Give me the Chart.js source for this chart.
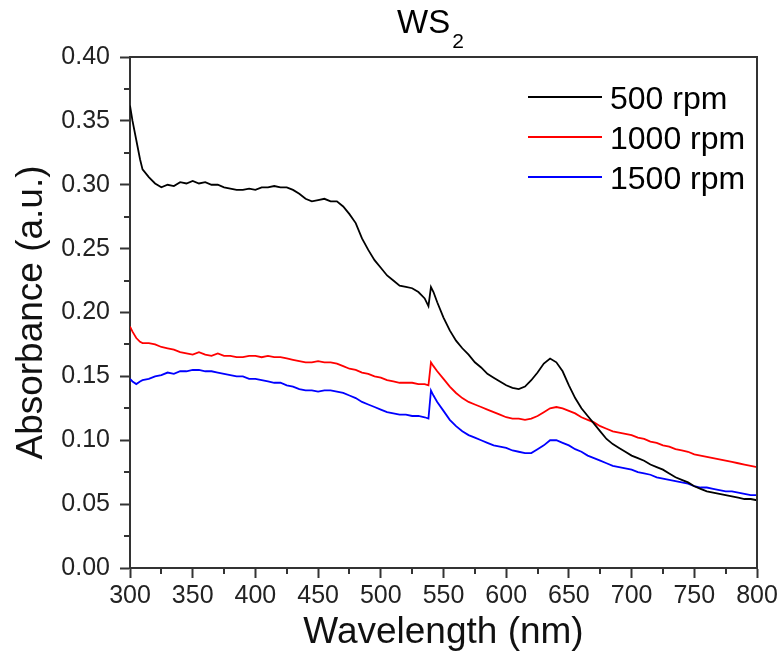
<!DOCTYPE html>
<html>
<head>
<meta charset="utf-8">
<title>WS2 absorbance</title>
<script src="https://cdn.jsdelivr.net/npm/chart.js@4.4.1/dist/chart.umd.min.js"></script>
<style>
  html, body { margin: 0; padding: 0; background: #ffffff; }
  #wrap { position: relative; width: 782px; height: 654px; }
</style>
</head>
<body>
<div id="wrap"><canvas id="chart" width="782" height="654"></canvas></div>
<script>
// wavelength (nm)
const wavelengths = [
  300, 302, 305, 308, 310, 315, 320, 325, 330, 335, 340, 345, 350, 355, 360, 365, 370, 375, 380, 385,
  390, 395, 400, 405, 410, 415, 420, 425, 430, 435, 440, 445, 450, 455, 460, 465, 470, 475, 480, 485,
  490, 495, 500, 505, 510, 515, 520, 525, 530, 535, 538, 540, 542, 545, 550, 555, 560, 565, 570, 575,
  580, 585, 590, 595, 600, 605, 610, 615, 620, 625, 630, 635, 640, 645, 650, 655, 660, 665, 670, 675,
  680, 685, 690, 695, 700, 705, 710, 715, 720, 725, 730, 735, 740, 745, 750, 755, 760, 765, 770, 775,
  780, 785, 790, 795, 800
];

const abs500 = [
  0.362, 0.350, 0.335, 0.320, 0.312, 0.306, 0.301, 0.298, 0.300, 0.299, 0.302, 0.301, 0.303, 0.301, 0.302, 0.300, 0.300, 0.298, 0.297, 0.296,
  0.296, 0.297, 0.296, 0.298, 0.298, 0.299, 0.298, 0.298, 0.296, 0.293, 0.289, 0.287, 0.288, 0.289, 0.287, 0.287, 0.283, 0.277, 0.270, 0.258,
  0.249, 0.241, 0.235, 0.229, 0.225, 0.221, 0.220, 0.219, 0.216, 0.211, 0.205, 0.220, 0.216, 0.208, 0.196, 0.186, 0.178, 0.172, 0.167, 0.161,
  0.157, 0.152, 0.149, 0.146, 0.143, 0.141, 0.140, 0.142, 0.147, 0.153, 0.160, 0.164, 0.161, 0.154, 0.143, 0.133, 0.125, 0.119, 0.113, 0.107,
  0.101, 0.097, 0.094, 0.091, 0.088, 0.086, 0.084, 0.081, 0.079, 0.077, 0.074, 0.071, 0.069, 0.067, 0.064, 0.062, 0.060, 0.059, 0.058, 0.057,
  0.056, 0.055, 0.054, 0.054, 0.053
];

const abs1000 = [
  0.189, 0.185, 0.180, 0.177, 0.176, 0.176, 0.175, 0.173, 0.172, 0.171, 0.169, 0.168, 0.167, 0.169, 0.167, 0.166, 0.168, 0.166, 0.166, 0.165,
  0.165, 0.166, 0.166, 0.165, 0.166, 0.165, 0.165, 0.164, 0.163, 0.162, 0.161, 0.161, 0.162, 0.161, 0.161, 0.160, 0.158, 0.156, 0.155, 0.153,
  0.152, 0.150, 0.149, 0.147, 0.146, 0.145, 0.145, 0.145, 0.144, 0.144, 0.143, 0.161, 0.158, 0.154, 0.148, 0.142, 0.137, 0.133, 0.130, 0.128,
  0.126, 0.124, 0.122, 0.120, 0.118, 0.117, 0.117, 0.116, 0.117, 0.119, 0.122, 0.125, 0.126, 0.125, 0.123, 0.121, 0.118, 0.116, 0.114, 0.111,
  0.109, 0.107, 0.106, 0.105, 0.104, 0.102, 0.101, 0.099, 0.098, 0.096, 0.095, 0.093, 0.092, 0.091, 0.089, 0.088, 0.087, 0.086, 0.085, 0.084,
  0.083, 0.082, 0.081, 0.080, 0.079
];

const abs1500 = [
  0.148, 0.146, 0.144, 0.146, 0.147, 0.148, 0.150, 0.151, 0.153, 0.152, 0.154, 0.154, 0.155, 0.155, 0.154, 0.154, 0.153, 0.152, 0.151, 0.150,
  0.150, 0.148, 0.148, 0.147, 0.146, 0.145, 0.145, 0.143, 0.142, 0.140, 0.139, 0.139, 0.138, 0.139, 0.139, 0.138, 0.137, 0.135, 0.133, 0.130,
  0.128, 0.126, 0.124, 0.122, 0.121, 0.120, 0.120, 0.119, 0.119, 0.118, 0.117, 0.139, 0.135, 0.130, 0.123, 0.116, 0.111, 0.107, 0.104, 0.102,
  0.100, 0.098, 0.096, 0.095, 0.094, 0.092, 0.091, 0.090, 0.090, 0.093, 0.096, 0.100, 0.100, 0.098, 0.096, 0.093, 0.091, 0.088, 0.086, 0.084,
  0.082, 0.080, 0.079, 0.078, 0.077, 0.075, 0.074, 0.073, 0.071, 0.070, 0.069, 0.068, 0.067, 0.066, 0.064, 0.063, 0.063, 0.062, 0.061, 0.060,
  0.060, 0.059, 0.058, 0.057, 0.057
];

const seriesNames = ['500 rpm', '1000 rpm', '1500 rpm'];
const seriesColors = ['#000000', '#ff0000', '#0000ff'];
const xTicks = [300, 350, 400, 450, 500, 550, 600, 650, 700, 750, 800];
const yTicks = [0.00, 0.05, 0.10, 0.15, 0.20, 0.25, 0.30, 0.35, 0.40];

const FONT = '"Liberation Sans", Arial, Helvetica, sans-serif';
const AXIS = '#333333';

function toPoints(values) {
  return wavelengths.map((w, i) => ({ x: w, y: values[i] }));
}

// frame, minor ticks, title and legend
const decorPlugin = {
  id: 'decor',
  afterDraw(chart) {
    const { ctx, chartArea: a, scales } = chart;
    ctx.save();
    ctx.strokeStyle = AXIS;
    ctx.lineWidth = 2;
    ctx.beginPath();
    ctx.moveTo(a.left, a.top);
    ctx.lineTo(a.right, a.top);
    ctx.lineTo(a.right, a.bottom);
    ctx.stroke();

    // minor ticks
    ctx.beginPath();
    for (let i = 0; i < xTicks.length - 1; i++) {
      const px = Math.round(scales.x.getPixelForValue((xTicks[i] + xTicks[i + 1]) / 2));
      ctx.moveTo(px, a.bottom);
      ctx.lineTo(px, a.bottom + 6);
    }
    for (let i = 0; i < yTicks.length - 1; i++) {
      const py = Math.round(scales.y.getPixelForValue((yTicks[i] + yTicks[i + 1]) / 2));
      ctx.moveTo(a.left, py);
      ctx.lineTo(a.left - 6, py);
    }
    ctx.stroke();

    // title WS2
    ctx.fillStyle = '#000';
    ctx.textBaseline = 'alphabetic';
    ctx.textAlign = 'left';
    ctx.font = '33px ' + FONT;
    ctx.fillText('WS', 397, 33);
    const w = ctx.measureText('WS').width;
    ctx.font = '21px ' + FONT;
    ctx.fillText('2', 397 + w + 2, 48);

    // legend
    ctx.font = '32px ' + FONT;
    seriesNames.forEach((name, i) => {
      const y = 97 + i * 40;
      ctx.strokeStyle = seriesColors[i];
      ctx.lineWidth = 2;
      ctx.beginPath();
      ctx.moveTo(528, y);
      ctx.lineTo(602, y);
      ctx.stroke();
      ctx.fillStyle = '#000';
      ctx.fillText(name, 610, y + 11.5);
    });
    ctx.restore();
  }
};

new Chart(document.getElementById('chart'), {
  type: 'line',
  data: {
    datasets: [abs500, abs1000, abs1500].map((vals, i) => ({
      label: seriesNames[i],
      data: toPoints(vals),
      borderColor: seriesColors[i],
      borderWidth: 1.8,
      pointRadius: 0,
      tension: 0,
      fill: false
    }))
  },
  options: {
    responsive: false,
    animation: false,
    layout: { padding: { top: 57, right: 25, bottom: 0, left: 0 } },
    plugins: {
      legend: { display: false },
      title: { display: false },
      tooltip: { enabled: false }
    },
    scales: {
      x: {
        type: 'linear',
        min: 300,
        max: 800,
        afterFit(scale) { scale.height = 86; },
        afterBuildTicks(scale) { scale.ticks = xTicks.map(v => ({ value: v })); },
        border: { display: true, color: AXIS, width: 2 },
        grid: { display: true, drawOnChartArea: false, drawTicks: true, tickLength: 10, tickColor: AXIS, tickWidth: 2 },
        ticks: { color: '#222', padding: 3, font: { family: FONT, size: 25 }, maxRotation: 0 },
        title: { display: true, text: 'Wavelength (nm)', color: '#111', font: { family: FONT, size: 37 }, padding: { top: 0, bottom: -1 } }
      },
      y: {
        min: 0,
        max: 0.4,
        afterFit(scale) { scale.width = 130; },
        afterBuildTicks(scale) { scale.ticks = yTicks.map(v => ({ value: v })); },
        border: { display: true, color: AXIS, width: 2 },
        grid: { display: true, drawOnChartArea: false, drawTicks: true, tickLength: 10, tickColor: AXIS, tickWidth: 2 },
        ticks: { color: '#222', padding: 10, font: { family: FONT, size: 25 }, callback: v => v.toFixed(2) },
        title: { display: true, text: 'Absorbance (a.u.)', color: '#111', font: { family: FONT, size: 37 }, padding: { top: 10, bottom: 0 } }
      }
    }
  },
  plugins: [decorPlugin]
});
</script>
</body>
</html>
